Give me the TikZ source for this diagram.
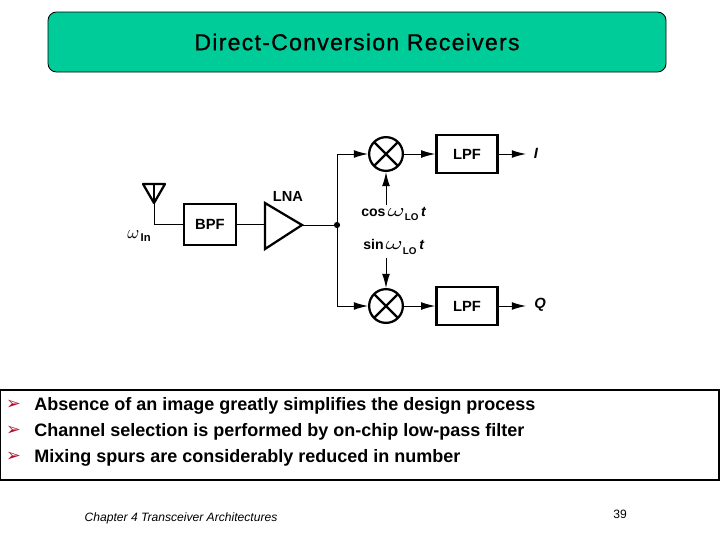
\documentclass[tikz,border=0pt]{standalone}
\usepackage{graphicx}
\usepackage{fontspec}
\setmainfont{Liberation Sans}
\newfontfamily\dejavu{DejaVu Sans}
\usetikzlibrary{shapes,arrows.meta,positioning,fit,calc}
\definecolor{titlegreen}{HTML}{00CC99}
\definecolor{bulletred}{HTML}{B01028}
\tikzset{
    block/.style={draw, line width=1.7pt, minimum width=43.5pt, minimum height=27pt, inner sep=0pt, font=\fontsize{10.5}{12}\selectfont\bfseries},
    mixer/.style={draw, circle, line width=1.6pt, minimum size=24pt, inner sep=0pt,
        path picture={\draw[line width=1.6pt] (path picture bounding box.north west)--(path picture bounding box.south east)
            (path picture bounding box.north east)--(path picture bounding box.south west);}},
    sig/.style={line width=0.7pt, -{Latex[length=10pt,width=5.5pt]}},
    wire/.style={line width=0.7pt},
    lab/.style={font=\fontsize{10}{11}\selectfont\bfseries, inner sep=0pt},
    outlab/.style={font=\fontsize{10.5}{12}\selectfont\bfseries\itshape, inner sep=0pt},
    bline/.style={font=\fontsize{12.8}{14}\selectfont\bfseries, anchor=west, inner sep=0pt},
}
\newcommand{\omegasym}[1]{\scalebox{#1}[1.3]{$\omega$}}
\newcommand{\subtext}[1]{\raisebox{-3pt}{\fontsize{7}{8}\selectfont #1}}
\newcommand{\omegalo}{\omegasym{1.85}\subtext{LO}\hspace{2pt}\textit{t}}
\begin{document}
\begin{tikzpicture}[x=0.025cm, y=-0.025cm]
            \useasboundingbox (0,0) rectangle (720,540);
            \draw[fill=titlegreen, rounded corners=6pt, line width=0.6pt] (48,12) rectangle (666,72);
            \node[font=\fontsize{16.4}{18}\selectfont\addfontfeatures{LetterSpace=5.5,FakeBold=0.8}] (title) at (357,42) {Direct-Conversion Receivers};
            \draw[line width=1.4pt] (0,390) rectangle (719,480);
            \foreach \y/\name/\txt in {406/one/Absence of an image greatly simplifies the design process,
                                       432/two/Channel selection is performed by on-chip low-pass filter,
                                       458/three/Mixing spurs are considerably reduced in number} {
                \node[font=\dejavu\fontsize{12.5}{12}\selectfont, text=bulletred, inner sep=0pt] (mark\name) at (13.5,\y-1) {➢};
                \node[bline] (\name) at (34,\y) {\txt};
            }
            \node[font=\fontsize{8.6}{10}\selectfont\itshape] (chapter) at (181,518) {Chapter 4 Transceiver Architectures};
            \node[font=\fontsize{8.6}{10}\selectfont] (page) at (620,514.5) {39};

            \coordinate (anttop) at (154,184);
            \coordinate (antl) at (143,184);
            \coordinate (antr) at (165,184);
            \coordinate (antapex) at (154,203);
            \draw[line width=1.6pt, line join=round] (antl)--(antr)--(antapex)--cycle;
            \draw[line width=1.2pt] (anttop)--(antapex);
            \node[block, minimum width=37pt, minimum height=29pt] (bpf) at (210,224.5) {BPF};
            \coordinate (antbot) at (154,224.5);
            \draw[wire] (antapex)--(antbot)--(bpf);
            \node[lab, anchor=west] (win) at (127,236) {\omegasym{1.3}\hspace{1pt}\raisebox{-2.5pt}{\fontsize{8}{9}\selectfont In}};
            \coordinate (lnaa) at (265,203);
            \coordinate (lnab) at (265,249);
            \coordinate (lnac) at (302,225);
            \draw[line width=1.6pt, line join=miter] (lnaa)--(lnac)--(lnab)--cycle;
            \node[lab, font=\fontsize{10.4}{11}\selectfont\bfseries] (lna) at (288,196) {LNA};
            \draw[wire] (bpf)--(lnaa |- bpf);
            \node[circle, fill, inner sep=0pt, minimum size=4.4pt] (dot) at (337,225) {};
            \draw[wire] (lnac)--(dot);

            \node[mixer] (mixi) at (386,154) {};
            \node[mixer] (mixq) at (386,306) {};
            \node[block] (lpfi) at (467,154) {LPF};
            \node[block] (lpfq) at (467,306) {LPF};
            \coordinate (outi) at (526,154);
            \coordinate (outq) at (526,306);
            \node[outlab] (labi) at (536,153) {I};
            \node[outlab] (labq) at (540,305) {Q};
            \draw[sig] (dot) |- (mixi);
            \draw[sig] (dot) |- (mixq);
            \draw[sig] (mixi)--(lpfi);
            \draw[sig] (mixq)--(lpfq);
            \draw[sig] (lpfi)--(outi);
            \draw[sig] (lpfq)--(outq);
            \node[lab, anchor=west] (coslo) at (361,214) {cos\hspace{1.5pt}\omegalo};
            \node[lab, anchor=west] (sinlo) at (363,247) {sin\hspace{1.5pt}\omegalo};
            \coordinate (cosfrom) at (386,205);
            \coordinate (sinfrom) at (386,258);
            \draw[sig] (cosfrom)--(mixi);
            \draw[sig] (sinfrom)--(mixq);
        \end{tikzpicture}
\end{document}
